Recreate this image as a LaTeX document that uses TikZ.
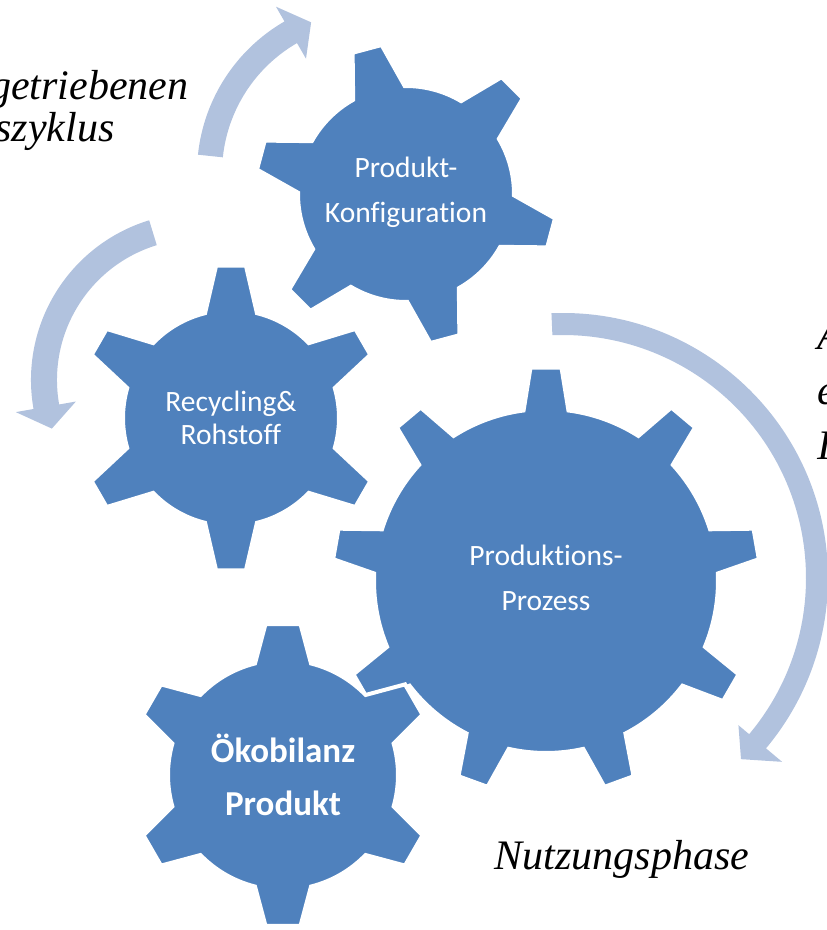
\documentclass[tikz,border=0pt]{standalone}
\usepackage{fontspec}
\setmainfont{Liberation Serif}
\newfontfamily\gearfont[Ligatures=NoCommon]{Carlito}

\definecolor{gearblue}{RGB}{79,129,189}
\definecolor{arrowblue}{RGB}{177,194,222}

% center, teeth, first tooth, body r, tip r, tip half angle, base half angle
\newcommand{\drawgear}[7]{%
	\begin{scope}[shift={#1}]
		\filldraw[gearbody] ({#3-#7}:#4)
		\foreach \k in {1,...,#2} {
			-- ({#3+(\k-1)*360/#2-#6}:#5) -- ({#3+(\k-1)*360/#2+#6}:#5)
			-- ({#3+(\k-1)*360/#2+#7}:#4)
			arc[start angle={#3+(\k-1)*360/#2+#7}, end angle={#3+\k*360/#2-#7}, radius=#4]
		} -- cycle;
	\end{scope}}

% center, inner r, outer r, start, head, tip, head inner r, head outer r
\newcommand{\ringarrow}[8]{%
	\fill[arrowblue, shift={#1}] ({#4}:#3) arc[start angle=#4, end angle=#5, radius=#3]
		-- ({#5}:#8) -- ({#6}:{(#2+#3)/2}) -- ({#5}:#7) -- ({#5}:#2)
		arc[start angle=#5, end angle=#4, radius=#2] -- cycle;}

\begin{document}
\begin{tikzpicture}[x=1pt, y=1pt,
		gearbody/.style={fill=gearblue, draw=white, line width=4pt},
		geartext/.style={text=white, align=center, font=\gearfont\fontsize{29.5}{45}\selectfont},
		note/.style={font=\itshape\fontsize{42}{44}\selectfont}]
	\useasboundingbox (0,0) rectangle (827,930);
	\clip (0,0) rectangle (827,930);

	% arrows
	\ringarrow{(372,757)}{150}{175}{174}{120}{112}{132}{192}
	\ringarrow{(198,550)}{141}{167}{107}{190}{198.4}{124}{185}
	\ringarrow{(563,352)}{243}{265}{92.5}{-40}{-45.5}{229}{286}

	% gears
	\drawgear{(406,736)}{6}{45}{108}{151}{5.7}{14.3}
	\drawgear{(231,512)}{6}{30}{108}{153}{5.6}{13.9}
	\drawgear{(546,349)}{9}{10}{172}{214}{4.15}{7.5}
	\drawgear{(283,155)}{6}{30}{115}{152}{6.6}{14.1}

	\node[geartext] (konfig) at (406,738) {Produkt-\\Konfiguration};
	\node[geartext, font=\gearfont\fontsize{29.5}{33}\selectfont] (recycling) at (231,512) {Recycling\&\\Rohstoff};
	\node[geartext] (prozess) at (546,352) {Produktions-\\Prozess};
	\node[geartext, font=\gearfont\bfseries\fontsize{35}{53}\selectfont] (oeko) at (283,155) {Ökobilanz\\Produkt};

	% labels
	\node[note, anchor=base east] (zyklusa) at (192,830) {getriebenen};
	\node[note, anchor=base east] (zyklusb) at (118,788) {szyklus};
	\node[note, anchor=base] (nutzung) at (622,60) {Nutzungsphase};
	\node[note, anchor=base west] (rechtsa) at (814,580) {A};
	\node[note, anchor=base west] (rechtsb) at (814,525) {e};
	\node[note, anchor=base west] (rechtsc) at (814,470) {I};
\end{tikzpicture}
\end{document}
